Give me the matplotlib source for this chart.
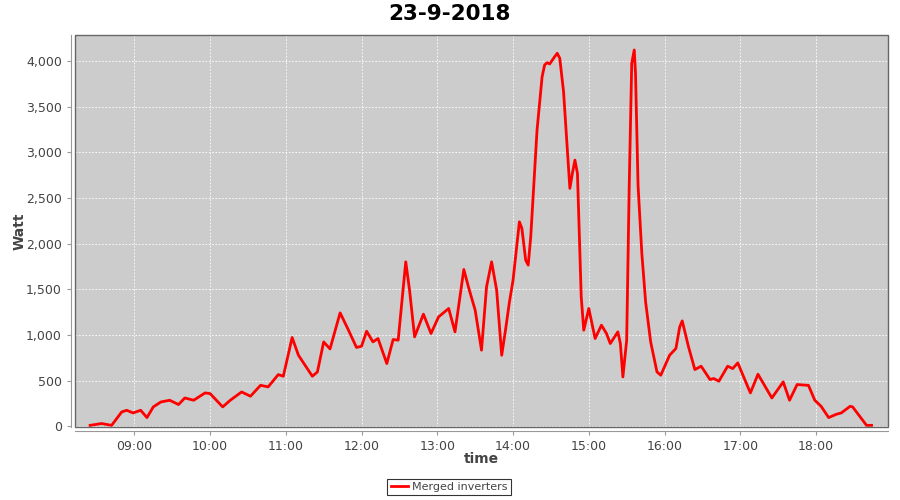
import pandas as pd
import matplotlib
matplotlib.use("Agg")
import matplotlib.pyplot as plt
import matplotlib.dates as mdates
from matplotlib.ticker import FuncFormatter, MultipleLocator
from matplotlib.patches import Rectangle

title = "23-9-2018"
series_name = "Merged inverters"

# readings of the merged inverter output (W) over the day
times = [
    "08:25", "08:34", "08:42", "08:50", "08:54", "08:59", "09:05", "09:10", "09:15", "09:21",
    "09:28", "09:35", "09:40", "09:47", "09:56", "10:00", "10:10", "10:16", "10:25", "10:32",
    "10:40", "10:46", "10:54", "10:58", "11:05", "11:10", "11:21", "11:25", "11:30", "11:35",
    "11:43", "11:49", "11:56", "12:00", "12:04", "12:09", "12:13", "12:20", "12:25", "12:29",
    "12:35", "12:38", "12:42", "12:49", "12:55", "13:01", "13:09", "13:14", "13:21", "13:25",
    "13:30", "13:35", "13:39", "13:43", "13:47", "13:51", "13:54", "13:57", "14:00", "14:05",
    "14:07", "14:10", "14:12", "14:14", "14:19", "14:23", "14:25", "14:27", "14:29", "14:33",
    "14:35", "14:37", "14:40", "14:43", "14:45", "14:47", "14:49", "14:51", "14:54", "14:56",
    "15:00", "15:05", "15:10", "15:14", "15:17", "15:23", "15:25", "15:27", "15:30", "15:32",
    "15:34", "15:36", "15:37", "15:39", "15:42", "15:45", "15:49", "15:54", "15:57", "16:04",
    "16:09", "16:12", "16:14", "16:19", "16:24", "16:29", "16:36", "16:39", "16:43", "16:50",
    "16:54", "16:58", "17:08", "17:14", "17:25", "17:34", "17:39", "17:45", "17:54", "17:59",
    "18:04", "18:10", "18:16", "18:20", "18:27", "18:29", "18:35", "18:40", "18:44",
]
watts = [
    10, 30, 10, 157, 175, 146, 175, 95, 212, 266,
    285, 238, 310, 285, 365, 358, 212, 285, 376, 329,
    449, 431, 566, 548, 972, 778, 548, 595, 924, 847,
    1242, 1071, 863, 877, 1041, 924, 961, 687, 950, 943,
    1801, 1491, 979, 1228, 1016, 1198, 1290, 1034, 1717, 1509,
    1271, 833, 1527, 1801, 1491, 778, 1052, 1350, 1600, 2239,
    2167, 1819, 1765, 2075, 3244, 3828, 3957, 3982, 3968, 4048,
    4085, 4030, 3664, 3025, 2605, 2770, 2915, 2770, 1417, 1052,
    1290, 961, 1107, 1016, 906, 1034, 906, 540, 943, 2623,
    3975, 4121, 3866, 2641, 1893, 1362, 924, 595, 559, 778,
    852, 1088, 1154, 869, 621, 658, 512, 523, 493, 658,
    632, 694, 365, 570, 310, 486, 285, 457, 448, 285,
    219, 95, 131, 146, 219, 212, 102, 10, 10,
]

t = pd.to_datetime(["2018-09-23 " + s for s in times])

fig = plt.figure(figsize=(9, 5), dpi=100)
ax = fig.add_axes([75 / 900, 1 - 427 / 500, 813 / 900, 392 / 500])

ax.set_facecolor("#cccccc")
ax.plot(t, watts, color="#ff0000", linewidth=2, label=series_name)

ax.set_xlim(pd.Timestamp("2018-09-23 08:13"), pd.Timestamp("2018-09-23 18:57"))
ax.set_ylim(-8, 4285)

ax.xaxis.set_major_locator(mdates.HourLocator())
ax.xaxis.set_major_formatter(mdates.DateFormatter("%H:%M"))
ax.yaxis.set_major_locator(MultipleLocator(500))
ax.yaxis.set_major_formatter(FuncFormatter(lambda v, p: f"{int(v):,}"))

ax.grid(True, color="white", linestyle=(0, (2, 2)), linewidth=0.6)
ax.set_axisbelow(True)

# plot outline plus offset axis lines
for side in ["top", "right"]:
    ax.spines[side].set_visible(False)
for side in ["left", "bottom"]:
    ax.spines[side].set_position(("outward", 3))
    ax.spines[side].set_color("#999999")
ax.add_patch(Rectangle((0, 0), 1, 1, transform=ax.transAxes, fill=False,
                       edgecolor="#666666", linewidth=1, clip_on=False, zorder=5))

ax.tick_params(axis="both", colors="#999999", labelcolor="#444444",
               labelsize=9, length=3, width=0.8)

ax.set_xlabel("time", fontsize=10, fontweight="bold", color="#444444", va="center")
ax.set_ylabel("Watt", fontsize=10, fontweight="bold", color="#444444", va="center")
ax.xaxis.set_label_coords(0.5, (427 - 459) / 392)
ax.yaxis.set_label_coords((20 - 75) / 813, 0.5)

fig.text(0.5, 1 - 14 / 500, title, ha="center", va="center",
         fontsize=15.5, fontweight="bold", color="black")

leg = fig.legend(loc="center", bbox_to_anchor=(449 / 900, 1 - 487 / 500),
                 fontsize=8, frameon=True, fancybox=False, handlelength=1.6,
                 borderpad=0.3, handletextpad=0.3, labelcolor="#444444")
leg.get_frame().set_edgecolor("black")
leg.get_frame().set_linewidth(0.8)

fig.savefig("out.png", dpi=100)
